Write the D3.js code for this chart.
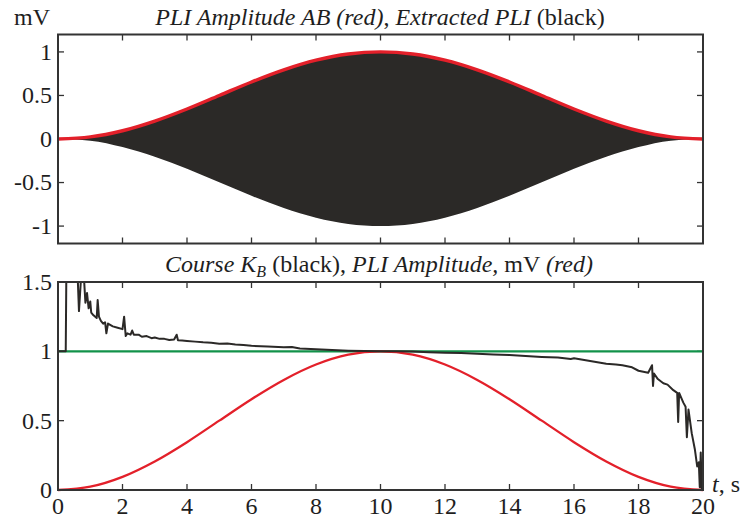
<!DOCTYPE html>
<html><head><meta charset="utf-8">
<script src="https://cdn.jsdelivr.net/npm/d3@7"></script>
<style>
body{margin:0;background:#fff;}
svg{display:block;font-family:"Liberation Serif","DejaVu Serif",serif;}
</style></head><body>
<svg id="c" width="740" height="520"></svg>
<script>
// ---- data ----
const envT   = [0,1,2,3,4,5,6,7,8,9,10,11,12,13,14,15,16,17,18,19,20];
const ampRed = [0,0.024,0.095,0.206,0.345,0.5,0.655,0.794,0.905,0.976,1,0.976,0.905,0.794,0.655,0.5,0.345,0.206,0.095,0.024,0];
const extractedAmp = [0,0.02,0.093,0.204,0.343,0.498,0.653,0.792,0.903,0.975,0.999,0.975,0.903,0.792,0.653,0.498,0.343,0.204,0.093,0.02,0];
const kbT = [0,0.24,0.26,0.6,0.65,0.72,0.8,0.85,0.9,0.95,1.0,1.03,1.1,1.2,1.23,1.27,1.33,1.4,1.46,1.5,1.55,1.7,1.85,2.0,2.05,2.1,2.15,2.25,2.3,2.35,2.5,2.6,2.75,2.9,3.0,3.15,3.3,3.45,3.6,3.68,3.72,3.85,4.0,4.25,4.5,4.75,5.0,5.25,5.5,5.75,6.0,6.5,7.0,7.25,7.5,8.0,8.5,9.0,9.5,10.0,10.5,11.0,11.5,12.0,12.5,13.0,13.5,14.0,14.5,15.0,15.5,15.9,16.0,16.5,17.0,17.3,17.5,17.8,18.0,18.3,18.42,18.45,18.48,18.6,18.77,18.9,19.08,19.2,19.23,19.26,19.39,19.46,19.5,19.55,19.65,19.75,19.82,19.87,19.9,19.93,19.96,20.0];
const kbV = [1,1,1.6,1.6,1.29,1.55,1.55,1.35,1.42,1.31,1.36,1.28,1.26,1.24,1.37,1.25,1.22,1.2,1.21,1.13,1.2,1.18,1.17,1.16,1.25,1.11,1.13,1.12,1.15,1.12,1.12,1.105,1.11,1.095,1.1,1.09,1.09,1.082,1.085,1.12,1.08,1.078,1.075,1.07,1.065,1.062,1.055,1.056,1.05,1.046,1.04,1.035,1.03,1.032,1.02,1.015,1.01,1.005,1.002,1.0,1.0,0.998,0.994,0.99,0.988,0.983,0.978,0.973,0.966,0.96,0.955,0.945,0.95,0.93,0.91,0.905,0.9,0.885,0.86,0.845,0.9,0.75,0.84,0.8,0.77,0.76,0.72,0.7,0.49,0.7,0.63,0.6,0.38,0.58,0.41,0.29,0.17,0.2,0.02,0.27,0.0,0.0];
const greenT = [0,20];
const greenV = [1,1];
const xTicks = [0,2,4,6,8,10,12,14,16,18,20];
const topYTicks = [-1,-0.5,0,0.5,1];
const botYTicks = [0,0.5,1,1.5];

// ---- layout ----
const svg = d3.select("#c");
const L = 58, R = 703;
const x = d3.scaleLinear().domain([0,20]).range([L,R]);
const yTop = d3.scaleLinear().domain([-1.2,1.2]).range([243.5,34.5]);
const yBot = d3.scaleLinear().domain([0,1.5]).range([490,282]);
const frameCol = "#333", red = "#e3202a", green = "#12924a", blk = "#2b2927", txt = "#1e1e1e";
const FS = 24;

function panel(y, yTicks, showXLabels, clipId){
  const g = svg.append("g");
  const [y0,y1] = y.range();
  g.append("clipPath").attr("id",clipId).append("rect")
    .attr("x",L).attr("y",y1).attr("width",R-L).attr("height",y0-y1);
  const tl = 6;
  xTicks.filter(t=>t>0&&t<20).forEach(t=>{
    g.append("line").attr("x1",x(t)).attr("x2",x(t)).attr("y1",y0).attr("y2",y0-tl).attr("stroke",frameCol).attr("stroke-width",1.3);
    g.append("line").attr("x1",x(t)).attr("x2",x(t)).attr("y1",y1).attr("y2",y1+tl).attr("stroke",frameCol).attr("stroke-width",1.3);
  });
  yTicks.forEach(v=>{
    g.append("line").attr("x1",L).attr("x2",L+tl).attr("y1",y(v)).attr("y2",y(v)).attr("stroke",frameCol).attr("stroke-width",1.3);
    g.append("line").attr("x1",R).attr("x2",R-tl).attr("y1",y(v)).attr("y2",y(v)).attr("stroke",frameCol).attr("stroke-width",1.3);
    g.append("text").attr("x",52).attr("y",y(v)).attr("dy","0.33em").attr("text-anchor","end")
      .attr("font-size",FS).attr("fill",txt).text(String(v));
  });
  if(showXLabels){
    xTicks.forEach(t=>{
      g.append("text").attr("x",x(t)).attr("y",514).attr("text-anchor","middle")
        .attr("font-size",FS).attr("fill",txt).text(t);
    });
  }
  return {g, y0, y1};
}

// top panel
const P1 = panel(yTop, topYTicks, false, "clip1");
const area = d3.area().x((d,i)=>x(envT[i])).y0((d,i)=>yTop(-extractedAmp[i])).y1((d,i)=>yTop(extractedAmp[i])).curve(d3.curveMonotoneX);
P1.g.append("path").datum(envT).attr("d",area).attr("fill",blk).attr("clip-path","url(#clip1)");
const redTop = d3.line().x((d,i)=>x(envT[i])).y((d,i)=>yTop(ampRed[i])).curve(d3.curveMonotoneX);
P1.g.append("path").datum(envT).attr("d",redTop).attr("fill","none").attr("stroke",red).attr("stroke-width",3.4);
P1.g.append("rect").attr("x",L).attr("y",P1.y1).attr("width",R-L).attr("height",P1.y0-P1.y1)
  .attr("fill","none").attr("stroke",frameCol).attr("stroke-width",2);

// bottom panel
const P2 = panel(yBot, botYTicks, true, "clip2");
const gl = d3.line().x((d,i)=>x(greenT[i])).y((d,i)=>yBot(greenV[i]));
P2.g.append("path").datum(greenT).attr("d",gl).attr("fill","none").attr("stroke",green).attr("stroke-width",2.4);
const redBot = d3.line().x((d,i)=>x(envT[i])).y((d,i)=>yBot(ampRed[i])).curve(d3.curveMonotoneX);
P2.g.append("path").datum(envT).attr("d",redBot).attr("fill","none").attr("stroke",red).attr("stroke-width",2.3);
const kbl = d3.line().x((d,i)=>x(kbT[i])).y((d,i)=>yBot(kbV[i]));
P2.g.append("path").datum(kbT).attr("d",kbl).attr("fill","none").attr("stroke",blk).attr("stroke-width",2).attr("stroke-linejoin","round").attr("clip-path","url(#clip2)");
P2.g.append("rect").attr("x",L).attr("y",P2.y1).attr("width",R-L).attr("height",P2.y0-P2.y1)
  .attr("fill","none").attr("stroke",frameCol).attr("stroke-width",2);

// titles & labels
svg.append("text").attr("x",14).attr("y",25).attr("font-size",FS).attr("fill",txt).text("mV");
const t1 = svg.append("text").attr("x",380).attr("y",25).attr("text-anchor","middle").attr("font-size",24).attr("fill",txt);
t1.append("tspan").attr("font-style","italic").text("PLI Amplitude AB (red)");
t1.append("tspan").text(", ");
t1.append("tspan").attr("font-style","italic").text("Extracted PLI ");
t1.append("tspan").text("(black)");
const t2 = svg.append("text").attr("x",379).attr("y",272).attr("text-anchor","middle").attr("font-size",24).attr("fill",txt);
t2.append("tspan").attr("font-style","italic").text("Course K");
t2.append("tspan").attr("font-style","italic").attr("font-size",16).attr("dy",5).text("B");
t2.append("tspan").attr("dy",-5).text(" (black), ");
t2.append("tspan").attr("font-style","italic").text("PLI Amplitude,");
t2.append("tspan").text(" mV ");
t2.append("tspan").attr("font-style","italic").text("(red)");
const ts = svg.append("text").attr("x",712).attr("y",492).attr("font-size",FS).attr("fill",txt);
ts.append("tspan").attr("font-style","italic").text("t");
ts.append("tspan").text(", s");
</script>
</body></html>
